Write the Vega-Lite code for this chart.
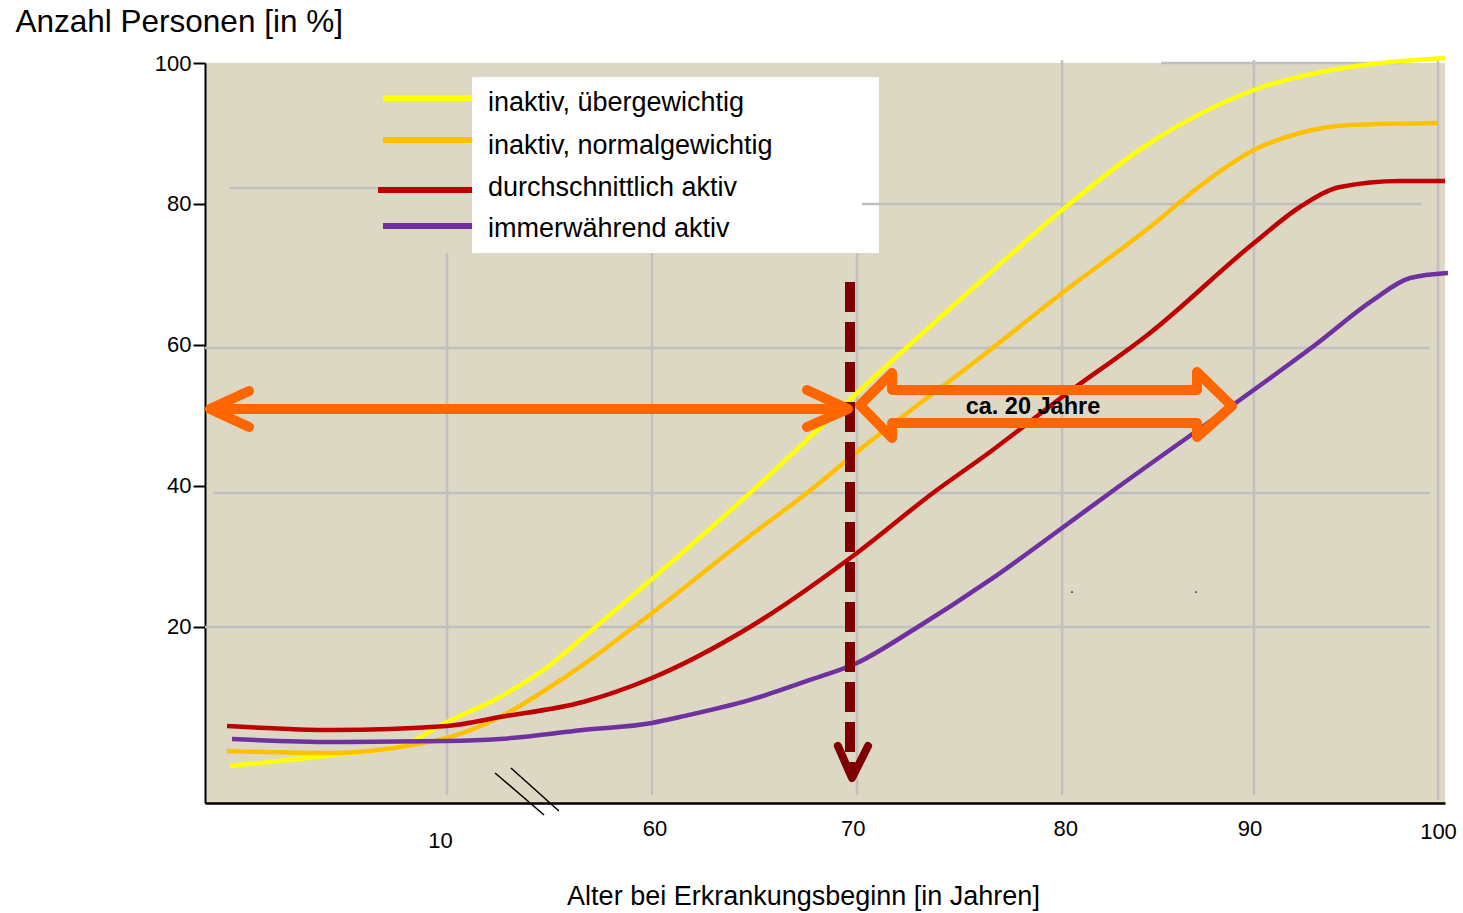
{
  "$schema": "https://vega.github.io/schema/vega-lite/v6.json",
  "width": 1240,
  "height": 740,
  "autosize": {"type": "none"},
  "padding": {"left": 205, "top": 63, "right": 18, "bottom": 110},
  "background": "white",
  "config": {
    "font": "Liberation Sans",
    "view": {"fill": "#DDD8C4", "stroke": null}
  },
  "datasets": {
    "kurven": [
      {"serie": "inaktiv, übergewichtig", "alter": 38.76, "anteil": 0.26},
      {"serie": "inaktiv, übergewichtig", "alter": 43.95, "anteil": 1.82},
      {"serie": "inaktiv, übergewichtig", "alter": 47.33, "anteil": 3.09},
      {"serie": "inaktiv, übergewichtig", "alter": 49.70, "anteil": 6.49},
      {"serie": "inaktiv, übergewichtig", "alter": 52.37, "anteil": 10.04},
      {"serie": "inaktiv, übergewichtig", "alter": 54.89, "anteil": 14.59},
      {"serie": "inaktiv, übergewichtig", "alter": 56.40, "anteil": 18.13},
      {"serie": "inaktiv, übergewichtig", "alter": 60.03, "anteil": 26.79},
      {"serie": "inaktiv, übergewichtig", "alter": 64.97, "anteil": 38.99},
      {"serie": "inaktiv, übergewichtig", "alter": 70.36, "anteil": 53.18},
      {"serie": "inaktiv, übergewichtig", "alter": 77.07, "anteil": 70.20},
      {"serie": "inaktiv, übergewichtig", "alter": 80.70, "anteil": 79.14},
      {"serie": "inaktiv, übergewichtig", "alter": 85.13, "anteil": 88.65},
      {"serie": "inaktiv, übergewichtig", "alter": 90.37, "anteil": 96.17},
      {"serie": "inaktiv, übergewichtig", "alter": 95.21, "anteil": 99.43},
      {"serie": "inaktiv, übergewichtig", "alter": 100.0, "anteil": 100.71},
      {"serie": "inaktiv, normalgewichtig", "alter": 38.61, "anteil": 2.38},
      {"serie": "inaktiv, normalgewichtig", "alter": 43.95, "anteil": 2.10},
      {"serie": "inaktiv, normalgewichtig", "alter": 47.33, "anteil": 2.95},
      {"serie": "inaktiv, normalgewichtig", "alter": 49.70, "anteil": 4.23},
      {"serie": "inaktiv, normalgewichtig", "alter": 52.37, "anteil": 7.20},
      {"serie": "inaktiv, normalgewichtig", "alter": 54.89, "anteil": 11.46},
      {"serie": "inaktiv, normalgewichtig", "alter": 56.55, "anteil": 14.59},
      {"serie": "inaktiv, normalgewichtig", "alter": 60.03, "anteil": 21.96},
      {"serie": "inaktiv, normalgewichtig", "alter": 64.97, "anteil": 32.92},
      {"serie": "inaktiv, normalgewichtig", "alter": 67.84, "anteil": 38.99},
      {"serie": "inaktiv, normalgewichtig", "alter": 70.36, "anteil": 44.81},
      {"serie": "inaktiv, normalgewichtig", "alter": 77.07, "anteil": 59.28},
      {"serie": "inaktiv, normalgewichtig", "alter": 80.70, "anteil": 67.37},
      {"serie": "inaktiv, normalgewichtig", "alter": 85.13, "anteil": 76.73},
      {"serie": "inaktiv, normalgewichtig", "alter": 87.65, "anteil": 82.55},
      {"serie": "inaktiv, normalgewichtig", "alter": 90.37, "anteil": 87.66},
      {"serie": "inaktiv, normalgewichtig", "alter": 92.69, "anteil": 90.07},
      {"serie": "inaktiv, normalgewichtig", "alter": 95.21, "anteil": 91.20},
      {"serie": "inaktiv, normalgewichtig", "alter": 99.60, "anteil": 91.49},
      {"serie": "durchschnittlich aktiv", "alter": 38.61, "anteil": 5.93},
      {"serie": "durchschnittlich aktiv", "alter": 43.95, "anteil": 5.36},
      {"serie": "durchschnittlich aktiv", "alter": 49.70, "anteil": 5.93},
      {"serie": "durchschnittlich aktiv", "alter": 52.37, "anteil": 7.20},
      {"serie": "durchschnittlich aktiv", "alter": 56.55, "anteil": 9.33},
      {"serie": "durchschnittlich aktiv", "alter": 60.03, "anteil": 12.74},
      {"serie": "durchschnittlich aktiv", "alter": 64.97, "anteil": 19.98},
      {"serie": "durchschnittlich aktiv", "alter": 70.36, "anteil": 30.48},
      {"serie": "durchschnittlich aktiv", "alter": 74.19, "anteil": 38.99},
      {"serie": "durchschnittlich aktiv", "alter": 77.07, "anteil": 44.81},
      {"serie": "durchschnittlich aktiv", "alter": 80.70, "anteil": 52.61},
      {"serie": "durchschnittlich aktiv", "alter": 85.13, "anteil": 61.69},
      {"serie": "durchschnittlich aktiv", "alter": 90.37, "anteil": 74.46},
      {"serie": "durchschnittlich aktiv", "alter": 92.69, "anteil": 79.57},
      {"serie": "durchschnittlich aktiv", "alter": 94.71, "anteil": 82.41},
      {"serie": "durchschnittlich aktiv", "alter": 97.73, "anteil": 83.26},
      {"serie": "durchschnittlich aktiv", "alter": 100.0, "anteil": 83.26},
      {"serie": "immerwährend aktiv", "alter": 38.86, "anteil": 4.09},
      {"serie": "immerwährend aktiv", "alter": 43.95, "anteil": 3.66},
      {"serie": "immerwährend aktiv", "alter": 49.70, "anteil": 3.80},
      {"serie": "immerwährend aktiv", "alter": 52.37, "anteil": 4.09},
      {"serie": "immerwährend aktiv", "alter": 56.55, "anteil": 5.36},
      {"serie": "immerwährend aktiv", "alter": 60.03, "anteil": 6.36},
      {"serie": "immerwährend aktiv", "alter": 61.44, "anteil": 7.20},
      {"serie": "immerwährend aktiv", "alter": 64.97, "anteil": 9.62},
      {"serie": "immerwährend aktiv", "alter": 67.99, "anteil": 12.46},
      {"serie": "immerwährend aktiv", "alter": 70.36, "anteil": 14.87},
      {"serie": "immerwährend aktiv", "alter": 73.19, "anteil": 19.55},
      {"serie": "immerwährend aktiv", "alter": 77.07, "anteil": 26.65},
      {"serie": "immerwährend aktiv", "alter": 80.70, "anteil": 34.02},
      {"serie": "immerwährend aktiv", "alter": 83.11, "anteil": 38.99},
      {"serie": "immerwährend aktiv", "alter": 89.31, "anteil": 51.48},
      {"serie": "immerwährend aktiv", "alter": 93.45, "anteil": 59.99},
      {"serie": "immerwährend aktiv", "alter": 96.37, "anteil": 66.37},
      {"serie": "immerwährend aktiv", "alter": 98.24, "anteil": 69.49},
      {"serie": "immerwährend aktiv", "alter": 100.15, "anteil": 70.20}
    ],
    "gitter": [
      {"alter": 49.70, "alter2": 49.70, "anteil": 73.04, "anteil2": -3.86},
      {"alter": 60.03, "alter2": 60.03, "anteil": 73.04, "anteil2": -3.86},
      {"alter": 70.36, "alter2": 70.36, "anteil": 73.04, "anteil2": -3.86},
      {"alter": 80.70, "alter2": 80.70, "anteil": 100.43, "anteil2": -3.86},
      {"alter": 90.37, "alter2": 90.37, "anteil": 100.43, "anteil2": -3.86},
      {"alter": 99.65, "alter2": 99.65, "anteil": 100.85, "anteil2": -4.57},
      {"alter": 37.5, "alter2": 99.24, "anteil": 19.98, "anteil2": 19.98},
      {"alter": 37.9, "alter2": 99.24, "anteil": 38.99, "anteil2": 38.99},
      {"alter": 37.5, "alter2": 99.24, "anteil": 59.56, "anteil2": 59.56},
      {"alter": 38.76, "alter2": 50.96, "anteil": 82.26, "anteil2": 82.26},
      {"alter": 70.61, "alter2": 98.84, "anteil": 80.0, "anteil2": 80.0},
      {"alter": 85.69, "alter2": 97.83, "anteil": 100.0, "anteil2": 100.0}
    ],
    "kasten": [
      {"alter": 50.96, "alter2": 71.47, "anteil": 98.01, "anteil2": 73.04}
    ],
    "legende": [
      {"serie": "inaktiv, übergewichtig", "alter": 46.47, "alter2": 50.96, "talter": 51.76, "anteil": 95.03, "tanteil": 94.32},
      {"serie": "inaktiv, normalgewichtig", "alter": 46.47, "alter2": 50.96, "talter": 51.76, "anteil": 89.07, "tanteil": 88.22},
      {"serie": "durchschnittlich aktiv", "alter": 46.22, "alter2": 50.96, "talter": 51.76, "anteil": 81.98, "tanteil": 82.26},
      {"serie": "immerwährend aktiv", "alter": 46.47, "alter2": 50.96, "talter": 51.76, "anteil": 76.87, "tanteil": 76.45}
    ],
    "pfeile": [
      {"teil": "schaft", "nr": 0, "alter": 37.9, "anteil": 50.91},
      {"teil": "schaft", "nr": 1, "alter": 69.66, "anteil": 50.91},
      {"teil": "links", "nr": 0, "alter": 39.72, "anteil": 53.46},
      {"teil": "links", "nr": 1, "alter": 37.75, "anteil": 50.91},
      {"teil": "links", "nr": 2, "alter": 39.72, "anteil": 48.35},
      {"teil": "rechts", "nr": 0, "alter": 67.84, "anteil": 53.60},
      {"teil": "rechts", "nr": 1, "alter": 69.91, "anteil": 50.91},
      {"teil": "rechts", "nr": 2, "alter": 67.84, "anteil": 48.35},
      {"teil": "hohl", "nr": 0, "alter": 72.13, "anteil": 53.60},
      {"teil": "hohl", "nr": 1, "alter": 87.50, "anteil": 53.60},
      {"teil": "hohl", "nr": 2, "alter": 87.50, "anteil": 56.16},
      {"teil": "hohl", "nr": 3, "alter": 89.26, "anteil": 51.33},
      {"teil": "hohl", "nr": 4, "alter": 87.50, "anteil": 46.93},
      {"teil": "hohl", "nr": 5, "alter": 87.50, "anteil": 48.92},
      {"teil": "hohl", "nr": 6, "alter": 72.13, "anteil": 48.92},
      {"teil": "hohl", "nr": 7, "alter": 72.13, "anteil": 46.79},
      {"teil": "hohl", "nr": 8, "alter": 70.51, "anteil": 51.48},
      {"teil": "hohl", "nr": 9, "alter": 72.13, "anteil": 56.02},
      {"teil": "hohl", "nr": 10, "alter": 72.13, "anteil": 53.60}
    ],
    "schaft": [
      {"alter": 70.01, "anteil": 68.93, "anteil2": -0.31}
    ],
    "kopf": [
      {"nr": 0, "alter": 69.40, "anteil": 3.09},
      {"nr": 1, "alter": 70.11, "anteil": -1.45},
      {"nr": 2, "alter": 70.92, "anteil": 3.09}
    ],
    "beschriftung": [
      {"text": "ca. 20 Jahre", "alter": 79.23, "anteil": 51.19}
    ],
    "bruch": [
      {"alter": 52.12, "alter2": 54.59, "anteil": -0.74, "anteil2": -6.70},
      {"alter": 52.92, "alter2": 55.34, "anteil": -0.03, "anteil2": -6.13}
    ],
    "punkte": [
      {"alter": 81.20, "anteil": 24.94},
      {"alter": 87.45, "anteil": 24.94}
    ]
  },
  "encoding": {
    "x": {
      "field": "alter",
      "type": "quantitative",
      "scale": {"domain": [37.5, 100], "nice": false, "zero": false},
      "axis": {
        "values": [50, 60, 70, 80, 90, 100],
        "labelExpr": "datum.value == 50 ? '10' : datum.label",
        "ticks": false,
        "grid": false,
        "domainColor": "black",
        "domainWidth": 2.5,
        "labelFontSize": 22,
        "labelColor": "black",
        "labelFlush": false,
        "labelOverlap": false,
        "labelBound": false,
        "labelPadding": {"condition": [{"test": "datum.value == 50", "value": 27}, {"test": "datum.value == 100", "value": 18}], "value": 15},
        "labelOffset": {"condition": [{"test": "datum.value == 50", "value": -13}, {"test": "datum.value == 80", "value": 17}, {"test": "datum.value == 100", "value": -7}], "value": 3},
        "title": "Alter bei Erkrankungsbeginn [in Jahren]",
        "titleFontSize": 27,
        "titleFontWeight": "normal",
        "titleColor": "black",
        "titleX": 598,
        "titleY": 93,
        "titleAlign": "center",
        "titleBaseline": "middle"
      }
    },
    "y": {
      "field": "anteil",
      "type": "quantitative",
      "scale": {"domain": [-5, 100], "nice": false, "zero": false},
      "axis": {
        "values": [20, 40, 60, 80, 100],
        "grid": false,
        "domainColor": "black",
        "domainWidth": 2,
        "tickColor": "black",
        "tickWidth": 2,
        "tickSize": 12,
        "labelFontSize": 22,
        "labelColor": "black",
        "labelPadding": 2,
        "title": "Anzahl Personen [in %]",
        "titleFontSize": 31.5,
        "titleFontWeight": "normal",
        "titleColor": "black",
        "titleAngle": 0,
        "titleAlign": "left",
        "titleBaseline": "middle",
        "titleX": -190,
        "titleY": -41
      }
    }
  },
  "layer": [
    {
      "data": {"name": "kasten"},
      "mark": {"type": "rect", "fill": "white"},
      "encoding": {"x2": {"field": "alter2"}, "y2": {"field": "anteil2"}}
    },
    {
      "data": {"name": "gitter"},
      "mark": {"type": "rule", "color": "#C0C0C0", "strokeWidth": 2.5},
      "encoding": {"x2": {"field": "alter2"}, "y2": {"field": "anteil2"}}
    },
    {
      "data": {"name": "legende"},
      "mark": {"type": "rule", "strokeWidth": 6},
      "encoding": {
        "x2": {"field": "alter2"},
        "color": {
          "field": "serie", "type": "nominal",
          "scale": {"domain": ["inaktiv, übergewichtig", "inaktiv, normalgewichtig", "durchschnittlich aktiv", "immerwährend aktiv"], "range": ["#FFFF00", "#FFC000", "#C00000", "#7030A0"]},
          "legend": null
        }
      }
    },
    {
      "data": {"name": "legende"},
      "mark": {"type": "text", "align": "left", "baseline": "middle", "fontSize": 27, "color": "black"},
      "encoding": {
        "x": {"field": "talter", "type": "quantitative"},
        "y": {"field": "tanteil", "type": "quantitative"},
        "text": {"field": "serie"}
      }
    },
    {
      "data": {"name": "kurven"},
      "mark": {"type": "line", "interpolate": "monotone", "strokeWidth": 4.5},
      "encoding": {
        "color": {"field": "serie", "type": "nominal", "legend": null}
      }
    },
    {
      "data": {"name": "schaft"},
      "mark": {"type": "rule", "color": "#7F0000", "strokeWidth": 10, "strokeDash": [30, 10]},
      "encoding": {"y2": {"field": "anteil2"}}
    },
    {
      "data": {"name": "kopf"},
      "mark": {"type": "line", "color": "#7F0000", "strokeWidth": 8, "strokeCap": "round", "strokeJoin": "round"},
      "encoding": {"order": {"field": "nr", "type": "quantitative"}}
    },
    {
      "data": {"name": "pfeile"},
      "mark": {"type": "line", "color": "#FF6600", "strokeWidth": 10, "strokeCap": "round", "strokeJoin": "round"},
      "encoding": {
        "detail": {"field": "teil", "type": "nominal"},
        "order": {"field": "nr", "type": "quantitative"}
      }
    },
    {
      "data": {"name": "beschriftung"},
      "mark": {"type": "text", "fontSize": 23.5, "fontWeight": "bold", "color": "black", "align": "center", "baseline": "middle"},
      "encoding": {"text": {"field": "text"}}
    },
    {
      "data": {"name": "bruch"},
      "mark": {"type": "rule", "color": "black", "strokeWidth": 1.5},
      "encoding": {"x2": {"field": "alter2"}, "y2": {"field": "anteil2"}}
    },
    {
      "data": {"name": "punkte"},
      "mark": {"type": "point", "filled": true, "color": "black", "size": 3, "opacity": 1}
    }
  ]
}
